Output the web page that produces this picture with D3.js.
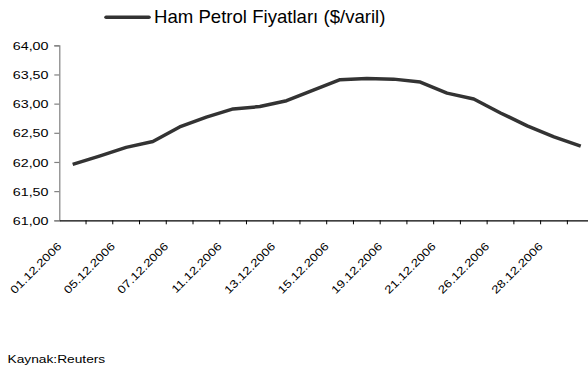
<!DOCTYPE html>
<html>
<head>
<meta charset="utf-8">
<script src="https://cdn.jsdelivr.net/npm/d3@7"></script>
<style>
  html, body { margin: 0; padding: 0; background: #fff; }
  svg { display: block; }
  text { font-family: "Liberation Sans", Arial, sans-serif; fill: #000; }
</style>
</head>
<body>
<svg id="chart" width="588" height="369"></svg>
<script>
// Trading days of December 2006
const dates = [
  "01.12.2006", "04.12.2006", "05.12.2006", "06.12.2006", "07.12.2006",
  "08.12.2006", "11.12.2006", "12.12.2006", "13.12.2006", "14.12.2006",
  "15.12.2006", "18.12.2006", "19.12.2006", "20.12.2006", "21.12.2006",
  "22.12.2006", "26.12.2006", "27.12.2006", "28.12.2006", "29.12.2006"
];
// Crude oil price, $/barrel
const prices = [
  61.96, 62.10, 62.25, 62.35, 62.60,
  62.77, 62.91, 62.95, 63.05, 63.23,
  63.41, 63.43, 63.42, 63.37, 63.18,
  63.08, 62.84, 62.62, 62.43, 62.27
];
const yTicks = [61.0, 61.5, 62.0, 62.5, 63.0, 63.5, 64.0];
const seriesName = "Ham Petrol Fiyatları ($/varil)";
const sourceNote = "Kaynak:Reuters";

const svg = d3.select("#chart");
const plotLeft = 59.3, plotRight = 594.1, plotTop = 45.3, plotBottom = 220.3;

const x = d3.scaleBand().domain(dates).range([plotLeft, plotRight]).paddingInner(0).paddingOuter(0);
const y = d3.scaleLinear().domain([61, 64]).range([plotBottom, plotTop]);
const trFormat = d3.formatLocale({ decimal: ",", thousands: ".", grouping: [3], currency: ["", "$"] }).format(".2f");
const bw = x.bandwidth();

// Y axis
const yAxis = svg.append("g").attr("transform", `translate(${plotLeft},0)`)
  .call(d3.axisLeft(y).tickValues(yTicks).tickSize(5).tickFormat(""));
yAxis.select(".domain").attr("stroke", "#808080").attr("stroke-width", 1.2);
yAxis.selectAll(".tick line").attr("stroke", "#808080").attr("stroke-width", 1.2);

svg.append("g").selectAll("text").data(yTicks).join("text")
  .attr("transform", d => `translate(48.5,${y(d) + 4.6}) scale(1.3,1)`)
  .attr("text-anchor", "end")
  .attr("font-size", 11)
  .text(d => trFormat(d));

// X axis: baseline and ticks between categories
const xAxis = svg.append("g").attr("transform", `translate(0,${plotBottom})`)
  .call(d3.axisBottom(x).tickSize(0).tickFormat(""));
xAxis.select(".domain").attr("stroke", "#000").attr("stroke-width", 1.3);
xAxis.selectAll(".tick").remove();

const boundaries = dates.map(d => x(d)).concat([x(dates[dates.length - 1]) + bw]).slice(1);
svg.append("g").selectAll("line").data(boundaries).join("line")
  .attr("x1", d => d).attr("x2", d => d)
  .attr("y1", plotBottom).attr("y2", plotBottom + 4)
  .attr("stroke", "#000").attr("stroke-width", 1);

// Category labels, every second day
svg.append("g").selectAll("text").data(dates.filter((d, i) => i % 2 === 0)).join("text")
  .attr("transform", d => `translate(${x(d) + bw / 2 - 10.5},247) rotate(-45) scale(1.22,1)`)
  .attr("text-anchor", "end")
  .attr("font-size", 11)
  .text(d => d);

// Price line
const line = d3.line().x((d, i) => x(dates[i]) + bw / 2).y(d => y(d));
svg.append("path").datum(prices)
  .attr("d", line)
  .attr("fill", "none")
  .attr("stroke", "#333")
  .attr("stroke-width", 3.5)
  .attr("stroke-linejoin", "round");

// Legend
svg.append("line")
  .attr("x1", 106).attr("x2", 149).attr("y1", 17.3).attr("y2", 17.3)
  .attr("stroke", "#333").attr("stroke-width", 3.5).attr("stroke-linecap", "round");
svg.append("text")
  .attr("x", 154).attr("y", 23)
  .attr("font-size", 18.6)
  .text(seriesName);

// Source note
svg.append("text")
  .attr("transform", "translate(7.5,363) scale(1.25,1)")
  .attr("font-size", 11)
  .text(sourceNote);
</script>
</body>
</html>
